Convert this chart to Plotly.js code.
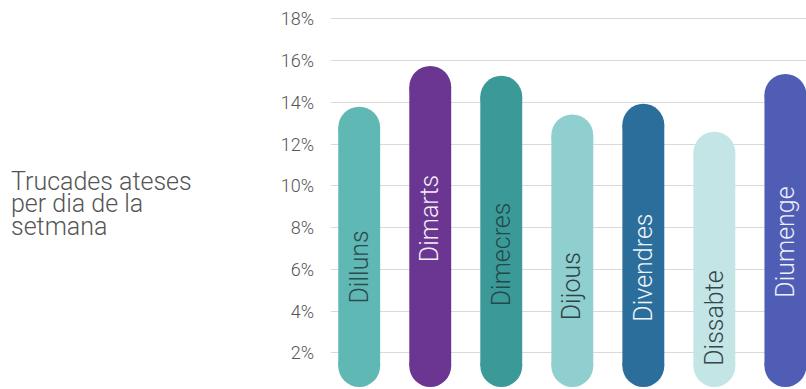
<!DOCTYPE html>
<html>
<head>
<meta charset="utf-8">
<script src="https://cdn.plot.ly/plotly-3.0.1.min.js"></script>
<style>html,body{margin:0;padding:0;background:#fff;}#chart{width:806px;height:389px;}</style>
</head>
<body>
<div id="chart"></div>
<script>
// ---- data ----
const days = ['Dilluns', 'Dimarts', 'Dimecres', 'Dijous', 'Divendres', 'Dissabte', 'Diumenge'];
const shares = [13.8, 15.75, 15.28, 13.43, 13.94, 12.6, 15.37];   // % of calls answered
const barColors = ['#5fb8b4', '#6b3592', '#3b9a97', '#8fcfcf', '#2b6e9b', '#c4e5e6', '#4f5db5'];
const labelColors = ['#2c4a50', '#f4eef6', '#23494a', '#2d4245', '#eef5fa', '#34474b', '#eef0fb'];
const yTicks = [2, 4, 6, 8, 10, 12, 14, 16, 18];
const titleLines = ['Trucades ateses', 'per dia de la', 'setmana'];

// ---- layout constants ----
const FONT = 'Roboto, "Noto Sans", sans-serif';
const W = 806, H = 389, ML = 331, MT = 10;
const xRange = [-0.397, 6.29], yRange = [0.275, 18.43];
const barW = 0.59;                                   // category units
const pxPerCat = (W - ML) / (xRange[1] - xRange[0]);
const pxPerPct = (H - MT) / (yRange[1] - yRange[0]);
const capD = barW * pxPerCat;                        // pill diameter in px
const capR = (capD / 2) / pxPerPct;                  // cap radius in % units
const pillBottom = 0.37;
const labelY = [6.1, 8.42, 6.74, 5.21, 6.1, 3.7, 7.3];

const lowC = shares.map(() => pillBottom + capR);
const highC = shares.map(v => v - capR);

const body = {
  type: 'bar', x: days, base: lowC, y: highC.map((h, i) => h - lowC[i]),
  width: barW, marker: {color: barColors, line: {width: 0}},
  hoverinfo: 'skip', showlegend: false
};
const topCaps = {
  type: 'scatter', mode: 'markers', x: days, y: highC,
  marker: {symbol: 'circle', size: capD, color: barColors, line: {width: 0}},
  hoverinfo: 'skip', showlegend: false, cliponaxis: false
};
const bottomCaps = {
  type: 'scatter', mode: 'markers', x: days, y: lowC,
  marker: {symbol: 'circle', size: capD, color: barColors, line: {width: 0}},
  hoverinfo: 'skip', showlegend: false, cliponaxis: false
};

const annotations = days.map((d, i) => ({
  x: d, y: labelY[i], xref: 'x', yref: 'y', text: d, showarrow: false,
  textangle: -90, xanchor: 'center', yanchor: 'middle',
  font: {family: FONT, size: 25, weight: 300, color: labelColors[i]}
}));
const titleY = [181, 203.5, 226];
titleLines.forEach((t, i) => annotations.push({
  x: (9 - ML) / (W - ML), y: (H - titleY[i]) / (H - MT), xref: 'paper', yref: 'paper',
  text: t, showarrow: false, xanchor: 'left', yanchor: 'middle',
  font: {family: FONT, size: 25, weight: 300, color: '#555555'}
}));

const layout = {
  width: W, height: H,
  margin: {l: ML, r: 0, t: MT, b: 0, pad: 0},
  paper_bgcolor: '#ffffff', plot_bgcolor: '#ffffff',
  barmode: 'overlay', showlegend: false,
  xaxis: {type: 'category', range: xRange, showticklabels: false, showgrid: false,
          zeroline: false, showline: false, ticks: ''},
  yaxis: {range: yRange, tickvals: yTicks, ticktext: yTicks.map(v => v + '%'),
          showgrid: true, gridcolor: '#d9d9d9', gridwidth: 1, zeroline: false, showline: false,
          ticks: '', ticklabelstandoff: 16,
          tickfont: {family: FONT, size: 18, weight: 300, color: '#555555'}},
  annotations: annotations
};

Plotly.newPlot('chart', [body, topCaps, bottomCaps], layout, {staticPlot: true, displayModeBar: false});
</script>
</body>
</html>
